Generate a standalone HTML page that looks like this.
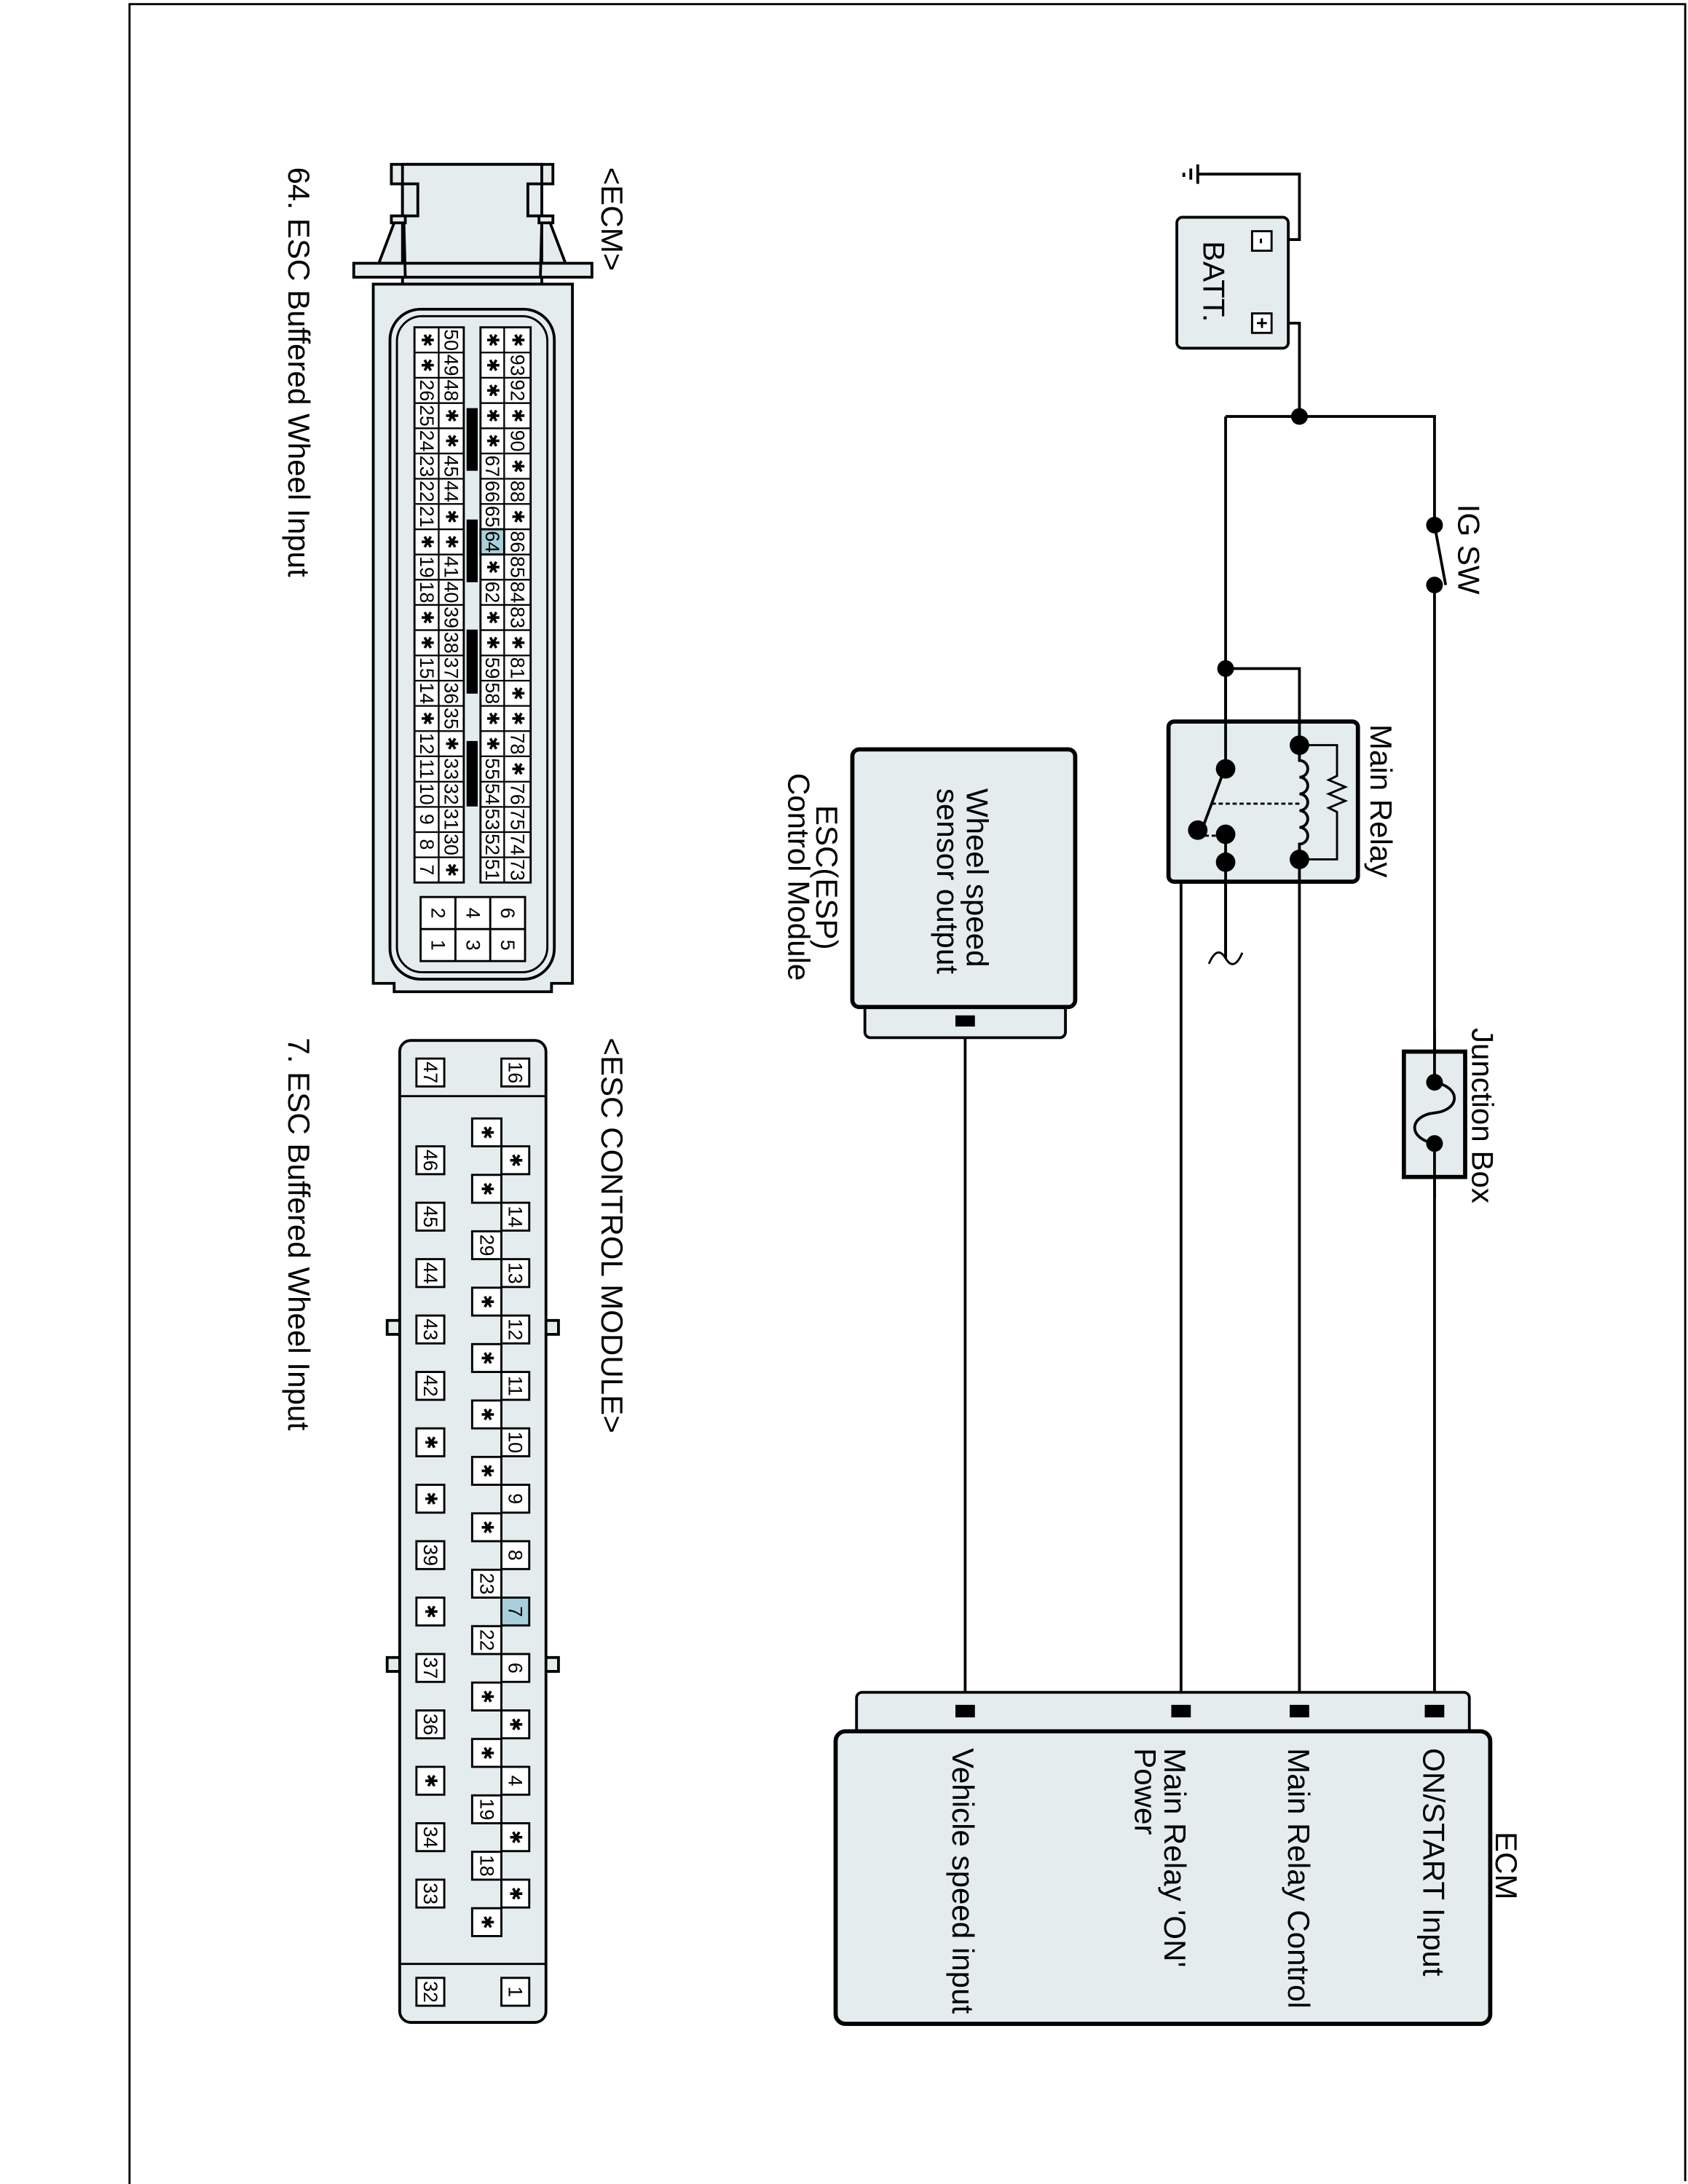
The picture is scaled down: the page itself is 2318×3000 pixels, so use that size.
<!DOCTYPE html>
<html><head><meta charset="utf-8"><style>
html,body{margin:0;padding:0;background:#fff}
svg{display:block}
text{font-family:"Liberation Sans","DejaVu Sans",sans-serif;fill:#000}
.p{font-size:14px;text-anchor:middle;dominant-baseline:central}
.s{font-size:12px;text-anchor:middle;dominant-baseline:central;font-family:"DejaVu Sans",sans-serif}
.L{font-size:22px}
</style></head><body>
<svg width="2318" height="3000" viewBox="0 0 1212 1568" preserveAspectRatio="none" xmlns="http://www.w3.org/2000/svg">
<rect x="0" y="0" width="1212" height="1568" fill="#fff"/>
<path d="M93 1568 V3 H1210 V1566" fill="none" stroke="#000" stroke-width="1.5"/>

<g stroke="#000" stroke-width="2" fill="none">
<path d="M860 125 H933 V172 H912"/>
<path d="M860 118 V132 M855 121 V129 M850 124 V127"/>
<path d="M912 232 H933 V299"/>
<path d="M880 299 H1030 V375"/>
<path d="M1030 420 V1228"/>
<path d="M880 299 V550"/>
<path d="M880 480 H933 V1228"/>
<path d="M880 619 V688"/>
<path d="M848 1228 V619 H880"/>
<path d="M693 733 V1228"/>
<path d="M868 692 q6 -14 12 -4 q6 10 12 -4" stroke-width="1.5"/>
</g>
<rect x="845" y="156" width="80" height="94" rx="4" fill="#e4ecee" stroke="#000" stroke-width="2"/>
<rect x="899" y="166" width="14" height="14" fill="#fff" stroke="#000" stroke-width="1.5"/>
<rect x="899" y="225" width="14" height="14" fill="#fff" stroke="#000" stroke-width="1.5"/>
<text x="906" y="173" font-size="13" font-weight="bold" transform="rotate(90 906 173)" text-anchor="middle" dominant-baseline="central">-</text>
<text x="906" y="232" font-size="14" font-weight="bold" transform="rotate(90 906 232)" text-anchor="middle" dominant-baseline="central">+</text>
<text x="864" y="173" class="L" transform="rotate(90 864 173)">BATT.</text>
<circle cx="933" cy="299" r="6"/>
<circle cx="1030" cy="377" r="6"/><circle cx="1030" cy="420" r="6"/>
<path d="M1030 377 L1038 420" stroke="#000" stroke-width="2"/>
<text x="1047" y="362" class="L" transform="rotate(90 1047 362)">IG SW</text>
<circle cx="880" cy="480" r="6"/>
<rect x="839" y="518" width="136" height="115" rx="4" fill="#e4ecee" stroke="#000" stroke-width="3"/>
<g stroke="#000" stroke-width="2" fill="none">
<path d="M880 480 V550"/>
<path d="M933 518 V535 M933 617 V633"/>
<path d="M933 535 V546 a6 6 0 0 1 0 12 a6 6 0 0 1 0 12 a6 6 0 0 1 0 12 a6 6 0 0 1 0 12 a6 6 0 0 1 0 12 V617" />
<path d="M933 535 H960 V557 l-6 3 l12 5 l-12 5 l12 5 l-12 5 l6 3 V617 H933" stroke-width="1.5"/>
<path d="M880 550 L864 593" />
<path d="M870 577 H933" stroke-dasharray="3 2" stroke-width="1.5"/>
<path d="M860 600 H880" stroke-dasharray="3 2" stroke-width="1.5"/>
<path d="M880 600 V633"/>
</g>
<circle cx="880" cy="552" r="7"/><circle cx="860" cy="596" r="7"/><circle cx="880" cy="599" r="7"/><circle cx="880" cy="619" r="7"/>
<circle cx="933" cy="535" r="7"/><circle cx="933" cy="617" r="7"/>
<path d="M880 633 V688" stroke="#000" stroke-width="2"/>
<text x="984" y="520" class="L" transform="rotate(90 984 520)">Main Relay</text>
<rect x="1008" y="755" width="44" height="90" fill="#e4ecee" stroke="#000" stroke-width="3"/>
<path d="M1030 740 V775 M1030 822 V860" stroke="#000" stroke-width="2"/>
<path d="M1030 777 c20 4 18 20 0 22 c-18 2 -20 18 0 22" fill="none" stroke="#000" stroke-width="2"/>
<circle cx="1030" cy="777" r="6"/><circle cx="1030" cy="821" r="6"/>
<text x="1057" y="738" class="L" transform="rotate(90 1057 738)">Junction Box</text>
<rect x="621" y="715" width="144" height="30" rx="4" fill="#e4ecee" stroke="#000" stroke-width="2"/>
<rect x="612" y="538" width="160" height="185" rx="5" fill="#e4ecee" stroke="#000" stroke-width="3"/>
<rect x="686" y="729" width="14" height="8" fill="#000"/>
<text x="694" y="566" class="L" transform="rotate(90 694 566)">Wheel speed</text>
<text x="673" y="566" class="L" transform="rotate(90 673 566)">sensor output</text>
<text x="586" y="578" class="L" transform="rotate(90 586 578)">ESC(ESP)</text>
<text x="566" y="555" class="L" transform="rotate(90 566 555)">Control Module</text>
<rect x="615" y="1215" width="440" height="40" rx="4" fill="#e4ecee" stroke="#000" stroke-width="2"/>
<rect x="600" y="1243" width="470" height="210" rx="7" fill="#e4ecee" stroke="#000" stroke-width="3"/>
<rect x="686" y="1224" width="14" height="9" fill="#000"/>
<rect x="841" y="1224" width="14" height="9" fill="#000"/>
<rect x="926" y="1224" width="14" height="9" fill="#000"/>
<rect x="1023" y="1224" width="14" height="9" fill="#000"/>
<text x="1074" y="1315" class="L" transform="rotate(90 1074 1315)">ECM</text>
<text x="1022" y="1255" class="L" transform="rotate(90 1022 1255)">ON/START Input</text>
<text x="925" y="1255" class="L" transform="rotate(90 925 1255)">Main Relay Control</text>
<text x="836" y="1255" class="L" transform="rotate(90 836 1255)">Main Relay 'ON'</text>
<text x="815" y="1255" class="L" transform="rotate(90 815 1255)">Power</text>
<text x="684" y="1255" class="L" transform="rotate(90 684 1255)">Vehicle speed input</text>

<text x="432" y="120" class="L" transform="rotate(90 432 120)">&lt;ECM&gt;</text>
<text x="207" y="120" class="L" transform="rotate(90 207 120)">64. ESC Buffered Wheel Input</text>
<text x="432" y="745" class="L" transform="rotate(90 432 745)">&lt;ESC CONTROL MODULE&gt;</text>
<text x="207" y="745" class="L" transform="rotate(90 207 745)">7. ESC Buffered Wheel Input</text>

<g fill="#e4ecee" stroke="#000" stroke-width="2">
<path d="M272 189 L283 160 H395 L406 189 Z"/>
<rect x="281" y="118" width="116" height="14"/>
<rect x="289" y="118" width="100" height="86"/>
<rect x="289" y="132" width="11" height="23"/>
<rect x="379" y="132" width="10" height="23"/>
<rect x="281" y="155" width="10" height="5"/>
<rect x="387" y="155" width="10" height="5"/>
<rect x="254" y="189" width="171" height="10"/>
<path d="M290 160 L291 199 M389 160 L388 199" fill="none"/>
<path d="M268 204 H411 V706 H396 V712 H283 V706 H268 Z"/>
<rect x="280" y="222" width="118" height="481" rx="22" fill="none"/>
<rect x="285" y="227" width="108" height="471" rx="18" fill="none" stroke-width="1.5"/>
</g>
<g fill="#fff" stroke="#000" stroke-width="1.5">
<rect x="297.6" y="235" width="35.4" height="398.6"/>
<rect x="345" y="235" width="36" height="398.6"/>
<rect x="345" y="379.96" width="17" height="18.12" fill="#a8d0dc"/>
</g>
<g stroke="#000" stroke-width="1.2">
<path d="M315 235 V633.6 M362 235 V633.6"/>
<path d="M297.6 253.1H333M297.6 271.2H333M297.6 289.4H333M297.6 307.5H333M297.6 325.6H333M297.6 343.7H333M297.6 361.8H333M297.6 380H333M297.6 398.1H333M297.6 416.2H333M297.6 434.3H333M297.6 452.4H333M297.6 470.6H333M297.6 488.7H333M297.6 506.8H333M297.6 524.9H333M297.6 543H333M297.6 561.2H333M297.6 579.3H333M297.6 597.4H333M297.6 615.5H333"/>
<path d="M345 253.1H381M345 271.2H381M345 289.4H381M345 307.5H381M345 325.6H381M345 343.7H381M345 361.8H381M345 380H381M345 398.1H381M345 416.2H381M345 434.3H381M345 452.4H381M345 470.6H381M345 488.7H381M345 506.8H381M345 524.9H381M345 543H381M345 561.2H381M345 579.3H381M345 597.4H381M345 615.5H381"/>
</g>
<g fill="#000">
<rect x="335" y="293" width="8" height="45"/>
<rect x="335" y="373" width="8" height="45"/>
<rect x="335" y="452" width="8" height="46"/>
<rect x="335" y="532" width="8" height="47"/>
</g>
<g>
<text class="s" x="306.3" y="244.1" transform="rotate(90 306.3 244.1)">✱</text>
<text class="s" x="306.3" y="262.2" transform="rotate(90 306.3 262.2)">✱</text>
<text class="p" x="306.3" y="280.3" transform="rotate(90 306.3 280.3)">26</text>
<text class="p" x="306.3" y="298.4" transform="rotate(90 306.3 298.4)">25</text>
<text class="p" x="306.3" y="316.5" transform="rotate(90 306.3 316.5)">24</text>
<text class="p" x="306.3" y="334.7" transform="rotate(90 306.3 334.7)">23</text>
<text class="p" x="306.3" y="352.8" transform="rotate(90 306.3 352.8)">22</text>
<text class="p" x="306.3" y="370.9" transform="rotate(90 306.3 370.9)">21</text>
<text class="s" x="306.3" y="389" transform="rotate(90 306.3 389)">✱</text>
<text class="p" x="306.3" y="407.1" transform="rotate(90 306.3 407.1)">19</text>
<text class="p" x="306.3" y="425.2" transform="rotate(90 306.3 425.2)">18</text>
<text class="s" x="306.3" y="443.3" transform="rotate(90 306.3 443.3)">✱</text>
<text class="s" x="306.3" y="461.4" transform="rotate(90 306.3 461.4)">✱</text>
<text class="p" x="306.3" y="479.6" transform="rotate(90 306.3 479.6)">15</text>
<text class="p" x="306.3" y="497.7" transform="rotate(90 306.3 497.7)">14</text>
<text class="s" x="306.3" y="515.8" transform="rotate(90 306.3 515.8)">✱</text>
<text class="p" x="306.3" y="533.9" transform="rotate(90 306.3 533.9)">12</text>
<text class="p" x="306.3" y="552" transform="rotate(90 306.3 552)">11</text>
<text class="p" x="306.3" y="570.1" transform="rotate(90 306.3 570.1)">10</text>
<text class="p" x="306.3" y="588.2" transform="rotate(90 306.3 588.2)">9</text>
<text class="p" x="306.3" y="606.3" transform="rotate(90 306.3 606.3)">8</text>
<text class="p" x="306.3" y="624.5" transform="rotate(90 306.3 624.5)">7</text>
</g>
<g>
<text class="p" x="324" y="244.1" transform="rotate(90 324 244.1)">50</text>
<text class="p" x="324" y="262.2" transform="rotate(90 324 262.2)">49</text>
<text class="p" x="324" y="280.3" transform="rotate(90 324 280.3)">48</text>
<text class="s" x="324" y="298.4" transform="rotate(90 324 298.4)">✱</text>
<text class="s" x="324" y="316.5" transform="rotate(90 324 316.5)">✱</text>
<text class="p" x="324" y="334.7" transform="rotate(90 324 334.7)">45</text>
<text class="p" x="324" y="352.8" transform="rotate(90 324 352.8)">44</text>
<text class="s" x="324" y="370.9" transform="rotate(90 324 370.9)">✱</text>
<text class="s" x="324" y="389" transform="rotate(90 324 389)">✱</text>
<text class="p" x="324" y="407.1" transform="rotate(90 324 407.1)">41</text>
<text class="p" x="324" y="425.2" transform="rotate(90 324 425.2)">40</text>
<text class="p" x="324" y="443.3" transform="rotate(90 324 443.3)">39</text>
<text class="p" x="324" y="461.4" transform="rotate(90 324 461.4)">38</text>
<text class="p" x="324" y="479.6" transform="rotate(90 324 479.6)">37</text>
<text class="p" x="324" y="497.7" transform="rotate(90 324 497.7)">36</text>
<text class="p" x="324" y="515.8" transform="rotate(90 324 515.8)">35</text>
<text class="s" x="324" y="533.9" transform="rotate(90 324 533.9)">✱</text>
<text class="p" x="324" y="552" transform="rotate(90 324 552)">33</text>
<text class="p" x="324" y="570.1" transform="rotate(90 324 570.1)">32</text>
<text class="p" x="324" y="588.2" transform="rotate(90 324 588.2)">31</text>
<text class="p" x="324" y="606.3" transform="rotate(90 324 606.3)">30</text>
<text class="s" x="324" y="624.5" transform="rotate(90 324 624.5)">✱</text>
</g>
<g>
<text class="s" x="353.5" y="244.1" transform="rotate(90 353.5 244.1)">✱</text>
<text class="s" x="353.5" y="262.2" transform="rotate(90 353.5 262.2)">✱</text>
<text class="s" x="353.5" y="280.3" transform="rotate(90 353.5 280.3)">✱</text>
<text class="s" x="353.5" y="298.4" transform="rotate(90 353.5 298.4)">✱</text>
<text class="s" x="353.5" y="316.5" transform="rotate(90 353.5 316.5)">✱</text>
<text class="p" x="353.5" y="334.7" transform="rotate(90 353.5 334.7)">67</text>
<text class="p" x="353.5" y="352.8" transform="rotate(90 353.5 352.8)">66</text>
<text class="p" x="353.5" y="370.9" transform="rotate(90 353.5 370.9)">65</text>
<text class="p" x="353.5" y="389" transform="rotate(90 353.5 389)">64</text>
<text class="s" x="353.5" y="407.1" transform="rotate(90 353.5 407.1)">✱</text>
<text class="p" x="353.5" y="425.2" transform="rotate(90 353.5 425.2)">62</text>
<text class="s" x="353.5" y="443.3" transform="rotate(90 353.5 443.3)">✱</text>
<text class="s" x="353.5" y="461.4" transform="rotate(90 353.5 461.4)">✱</text>
<text class="p" x="353.5" y="479.6" transform="rotate(90 353.5 479.6)">59</text>
<text class="p" x="353.5" y="497.7" transform="rotate(90 353.5 497.7)">58</text>
<text class="s" x="353.5" y="515.8" transform="rotate(90 353.5 515.8)">✱</text>
<text class="s" x="353.5" y="533.9" transform="rotate(90 353.5 533.9)">✱</text>
<text class="p" x="353.5" y="552" transform="rotate(90 353.5 552)">55</text>
<text class="p" x="353.5" y="570.1" transform="rotate(90 353.5 570.1)">54</text>
<text class="p" x="353.5" y="588.2" transform="rotate(90 353.5 588.2)">53</text>
<text class="p" x="353.5" y="606.3" transform="rotate(90 353.5 606.3)">52</text>
<text class="p" x="353.5" y="624.5" transform="rotate(90 353.5 624.5)">51</text>
</g>
<g>
<text class="s" x="371.5" y="244.1" transform="rotate(90 371.5 244.1)">✱</text>
<text class="p" x="371.5" y="262.2" transform="rotate(90 371.5 262.2)">93</text>
<text class="p" x="371.5" y="280.3" transform="rotate(90 371.5 280.3)">92</text>
<text class="s" x="371.5" y="298.4" transform="rotate(90 371.5 298.4)">✱</text>
<text class="p" x="371.5" y="316.5" transform="rotate(90 371.5 316.5)">90</text>
<text class="s" x="371.5" y="334.7" transform="rotate(90 371.5 334.7)">✱</text>
<text class="p" x="371.5" y="352.8" transform="rotate(90 371.5 352.8)">88</text>
<text class="s" x="371.5" y="370.9" transform="rotate(90 371.5 370.9)">✱</text>
<text class="p" x="371.5" y="389" transform="rotate(90 371.5 389)">86</text>
<text class="p" x="371.5" y="407.1" transform="rotate(90 371.5 407.1)">85</text>
<text class="p" x="371.5" y="425.2" transform="rotate(90 371.5 425.2)">84</text>
<text class="p" x="371.5" y="443.3" transform="rotate(90 371.5 443.3)">83</text>
<text class="s" x="371.5" y="461.4" transform="rotate(90 371.5 461.4)">✱</text>
<text class="p" x="371.5" y="479.6" transform="rotate(90 371.5 479.6)">81</text>
<text class="s" x="371.5" y="497.7" transform="rotate(90 371.5 497.7)">✱</text>
<text class="s" x="371.5" y="515.8" transform="rotate(90 371.5 515.8)">✱</text>
<text class="p" x="371.5" y="533.9" transform="rotate(90 371.5 533.9)">78</text>
<text class="s" x="371.5" y="552" transform="rotate(90 371.5 552)">✱</text>
<text class="p" x="371.5" y="570.1" transform="rotate(90 371.5 570.1)">76</text>
<text class="p" x="371.5" y="588.2" transform="rotate(90 371.5 588.2)">75</text>
<text class="p" x="371.5" y="606.3" transform="rotate(90 371.5 606.3)">74</text>
<text class="p" x="371.5" y="624.5" transform="rotate(90 371.5 624.5)">73</text>
</g>
<g fill="#fff" stroke="#000" stroke-width="1.5">
<rect x="302" y="644" width="75" height="46"/>
<path d="M327 644 V690 M352 644 V690 M302 667 H377" fill="none"/>
</g>
<g>
<text class="p" x="314.5" y="655.5" transform="rotate(90 314.5 655.5)">2</text>
<text class="p" x="314.5" y="678.5" transform="rotate(90 314.5 678.5)">1</text>
<text class="p" x="339.5" y="655.5" transform="rotate(90 339.5 655.5)">4</text>
<text class="p" x="339.5" y="678.5" transform="rotate(90 339.5 678.5)">3</text>
<text class="p" x="364.5" y="655.5" transform="rotate(90 364.5 655.5)">6</text>
<text class="p" x="364.5" y="678.5" transform="rotate(90 364.5 678.5)">5</text>
</g>

<g fill="#e4ecee" stroke="#000" stroke-width="2">
<rect x="278" y="948" width="10" height="10"/>
<rect x="391" y="948" width="10" height="10"/>
<rect x="278" y="1190" width="10" height="10"/>
<rect x="391" y="1190" width="10" height="10"/>
<rect x="287" y="747" width="105" height="705" rx="8"/>
<path d="M287 787 H392 M287 1410 H392" fill="none" stroke-width="1.5"/>
</g>
<g fill="#fff" stroke="#000" stroke-width="1.5">
<rect x="360" y="760" width="20" height="20"/><rect x="299" y="760" width="20" height="20"/>
<rect x="360" y="1420" width="20" height="20"/><rect x="299" y="1420" width="20" height="20"/>
<rect x="360" y="823" width="20" height="20"/>
<rect x="360" y="863.5" width="20" height="20"/>
<rect x="360" y="904" width="20" height="20"/>
<rect x="360" y="944.5" width="20" height="20"/>
<rect x="360" y="985" width="20" height="20"/>
<rect x="360" y="1025.5" width="20" height="20"/>
<rect x="360" y="1066" width="20" height="20"/>
<rect x="360" y="1106.5" width="20" height="20"/>
<rect x="360" y="1147" width="20" height="20" fill="#a8d0dc"/>
<rect x="360" y="1187.5" width="20" height="20"/>
<rect x="360" y="1228" width="20" height="20"/>
<rect x="360" y="1268.5" width="20" height="20"/>
<rect x="360" y="1309" width="20" height="20"/>
<rect x="360" y="1349.5" width="20" height="20"/>
<rect x="339" y="803" width="21" height="20"/>
<rect x="339" y="843.5" width="21" height="20"/>
<rect x="339" y="884" width="21" height="20"/>
<rect x="339" y="924.5" width="21" height="20"/>
<rect x="339" y="965" width="21" height="20"/>
<rect x="339" y="1005.5" width="21" height="20"/>
<rect x="339" y="1046" width="21" height="20"/>
<rect x="339" y="1086.5" width="21" height="20"/>
<rect x="339" y="1127" width="21" height="20"/>
<rect x="339" y="1167.5" width="21" height="20"/>
<rect x="339" y="1208" width="21" height="20"/>
<rect x="339" y="1248.5" width="21" height="20"/>
<rect x="339" y="1289" width="21" height="20"/>
<rect x="339" y="1329.5" width="21" height="20"/>
<rect x="339" y="1370" width="21" height="20"/>
<rect x="299" y="823" width="20" height="20"/>
<rect x="299" y="863.5" width="20" height="20"/>
<rect x="299" y="904" width="20" height="20"/>
<rect x="299" y="944.5" width="20" height="20"/>
<rect x="299" y="985" width="20" height="20"/>
<rect x="299" y="1025.5" width="20" height="20"/>
<rect x="299" y="1066" width="20" height="20"/>
<rect x="299" y="1106.5" width="20" height="20"/>
<rect x="299" y="1147" width="20" height="20"/>
<rect x="299" y="1187.5" width="20" height="20"/>
<rect x="299" y="1228" width="20" height="20"/>
<rect x="299" y="1268.5" width="20" height="20"/>
<rect x="299" y="1309" width="20" height="20"/>
<rect x="299" y="1349.5" width="20" height="20"/>
</g>
<g>
<text class="p" x="370" y="770" transform="rotate(90 370 770)">16</text>
<text class="p" x="309" y="770" transform="rotate(90 309 770)">47</text>
<text class="p" x="370" y="1430" transform="rotate(90 370 1430)">1</text>
<text class="p" x="309" y="1430" transform="rotate(90 309 1430)">32</text>
<text class="s" x="370" y="833" transform="rotate(90 370 833)">✱</text>
<text class="p" x="370" y="873.5" transform="rotate(90 370 873.5)">14</text>
<text class="p" x="370" y="914" transform="rotate(90 370 914)">13</text>
<text class="p" x="370" y="954.5" transform="rotate(90 370 954.5)">12</text>
<text class="p" x="370" y="995" transform="rotate(90 370 995)">11</text>
<text class="p" x="370" y="1035.5" transform="rotate(90 370 1035.5)">10</text>
<text class="p" x="370" y="1076" transform="rotate(90 370 1076)">9</text>
<text class="p" x="370" y="1116.5" transform="rotate(90 370 1116.5)">8</text>
<text class="p" x="370" y="1157" transform="rotate(90 370 1157)">7</text>
<text class="p" x="370" y="1197.5" transform="rotate(90 370 1197.5)">6</text>
<text class="s" x="370" y="1238" transform="rotate(90 370 1238)">✱</text>
<text class="p" x="370" y="1278.5" transform="rotate(90 370 1278.5)">4</text>
<text class="s" x="370" y="1319" transform="rotate(90 370 1319)">✱</text>
<text class="s" x="370" y="1359.5" transform="rotate(90 370 1359.5)">✱</text>
<text class="s" x="349.5" y="813" transform="rotate(90 349.5 813)">✱</text>
<text class="s" x="349.5" y="853.5" transform="rotate(90 349.5 853.5)">✱</text>
<text class="p" x="349.5" y="894" transform="rotate(90 349.5 894)">29</text>
<text class="s" x="349.5" y="934.5" transform="rotate(90 349.5 934.5)">✱</text>
<text class="s" x="349.5" y="975" transform="rotate(90 349.5 975)">✱</text>
<text class="s" x="349.5" y="1015.5" transform="rotate(90 349.5 1015.5)">✱</text>
<text class="s" x="349.5" y="1056" transform="rotate(90 349.5 1056)">✱</text>
<text class="s" x="349.5" y="1096.5" transform="rotate(90 349.5 1096.5)">✱</text>
<text class="p" x="349.5" y="1137" transform="rotate(90 349.5 1137)">23</text>
<text class="p" x="349.5" y="1177.5" transform="rotate(90 349.5 1177.5)">22</text>
<text class="s" x="349.5" y="1218" transform="rotate(90 349.5 1218)">✱</text>
<text class="s" x="349.5" y="1258.5" transform="rotate(90 349.5 1258.5)">✱</text>
<text class="p" x="349.5" y="1299" transform="rotate(90 349.5 1299)">19</text>
<text class="p" x="349.5" y="1339.5" transform="rotate(90 349.5 1339.5)">18</text>
<text class="s" x="349.5" y="1380" transform="rotate(90 349.5 1380)">✱</text>
<text class="p" x="309" y="833" transform="rotate(90 309 833)">46</text>
<text class="p" x="309" y="873.5" transform="rotate(90 309 873.5)">45</text>
<text class="p" x="309" y="914" transform="rotate(90 309 914)">44</text>
<text class="p" x="309" y="954.5" transform="rotate(90 309 954.5)">43</text>
<text class="p" x="309" y="995" transform="rotate(90 309 995)">42</text>
<text class="s" x="309" y="1035.5" transform="rotate(90 309 1035.5)">✱</text>
<text class="s" x="309" y="1076" transform="rotate(90 309 1076)">✱</text>
<text class="p" x="309" y="1116.5" transform="rotate(90 309 1116.5)">39</text>
<text class="s" x="309" y="1157" transform="rotate(90 309 1157)">✱</text>
<text class="p" x="309" y="1197.5" transform="rotate(90 309 1197.5)">37</text>
<text class="p" x="309" y="1238" transform="rotate(90 309 1238)">36</text>
<text class="s" x="309" y="1278.5" transform="rotate(90 309 1278.5)">✱</text>
<text class="p" x="309" y="1319" transform="rotate(90 309 1319)">34</text>
<text class="p" x="309" y="1359.5" transform="rotate(90 309 1359.5)">33</text>
</g>
</svg>
</body></html>
